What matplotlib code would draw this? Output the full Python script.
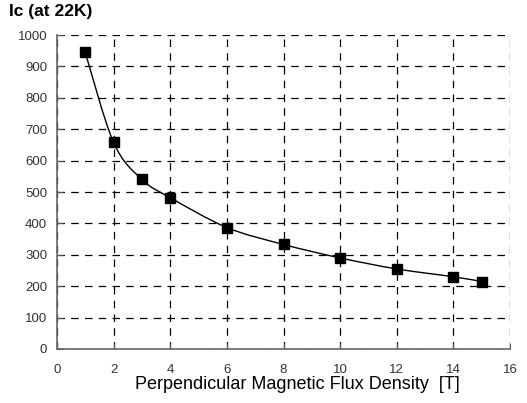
import numpy as np
import matplotlib.pyplot as plt
from matplotlib.path import Path
from matplotlib.patches import PathPatch

# Ic vs perpendicular field
field = [1, 2, 3, 4, 6, 8, 10, 12, 14, 15]
ic = [945, 658, 540, 482, 387, 333, 290, 255, 230, 215]
x_ticks = [0, 2, 4, 6, 8, 10, 12, 14, 16]
y_ticks = [0, 100, 200, 300, 400, 500, 600, 700, 800, 900, 1000]

plt.rcParams['font.family'] = ['Liberation Sans', 'DejaVu Sans']

fig = plt.figure(figsize=(5.27, 4.03), dpi=100)
ax = fig.add_axes([0.108, 0.134, 0.86, 0.779])


def smooth_path(xs, ys):
    """Catmull-Rom style bezier through the points (drawing only)"""
    pts = np.column_stack([xs, ys]).astype(float)
    verts = [pts[0]]
    codes = [Path.MOVETO]
    n = len(pts)
    for i in range(n - 1):
        p0 = pts[max(i - 1, 0)]
        p1 = pts[i]
        p2 = pts[i + 1]
        p3 = pts[min(i + 2, n - 1)]
        c1 = p1 + (p2 - p0) / 6.0
        c2 = p2 - (p3 - p1) / 6.0
        verts += [c1, c2, p2]
        codes += [Path.CURVE4] * 3
    return Path(verts, codes)


ax.add_patch(PathPatch(smooth_path(field, ic), fill=False, edgecolor='black',
                       linewidth=1.0, zorder=3))
ax.plot(field, ic, linestyle='none', marker='s', markersize=7.5,
        color='black', zorder=4)

ax.set_xlim(0, 16)
ax.set_ylim(0, 1000)
ax.set_xticks(x_ticks)
ax.set_yticks(y_ticks)
ax.tick_params(axis='both', direction='in', length=4, labelsize=9.5,
               color='#555555', labelcolor='#333333')
ax.tick_params(axis='x', pad=11)
ax.tick_params(axis='y', pad=7)

ax.grid(True, linestyle=(0, (6, 5)), color='black', linewidth=0.9)
ax.set_axisbelow(True)
for side in ['top', 'right']:
    ax.spines[side].set_visible(False)
for side in ['left', 'bottom']:
    ax.spines[side].set_color('#666666')
    ax.spines[side].set_linewidth(1.2)

ax.set_xlabel('Perpendicular Magnetic Flux Density  [T]', fontsize=13)
ax.xaxis.set_label_coords(0.53, -0.085)
fig.text(0.017, 0.99, 'Ic (at 22K)', fontsize=12.5, fontweight='bold',
         va='top', ha='left')

fig.savefig('out.png', dpi=100)
